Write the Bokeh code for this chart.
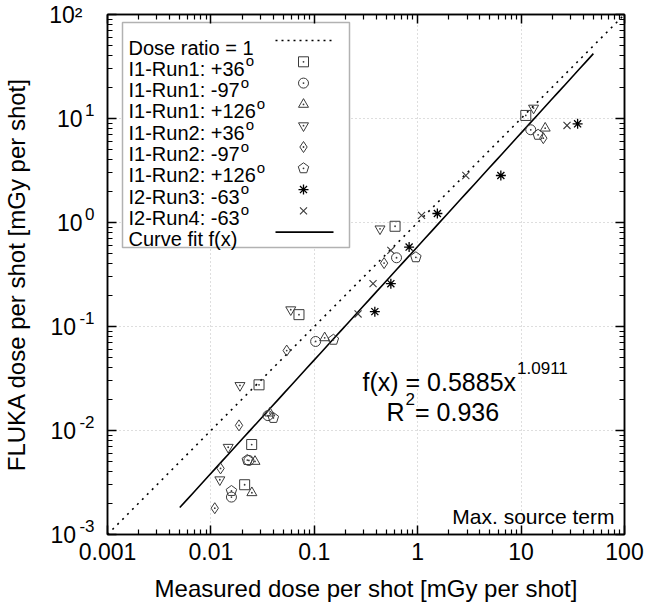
import numpy as np
from bokeh.plotting import figure
from bokeh.models import FixedTicker, Label, BoxAnnotation, Range1d, LogAxis, LogScale
from bokeh.embed import file_html
from bokeh.resources import INLINE

FONT = "Liberation Sans"

# ---------------- data ----------------
sq_x = [11.1, 0.604, 0.0711, 0.0292, 0.0248, 0.0212]
sq_y = [10.7, 0.92, 0.130, 0.0275, 0.00733, 0.00301]
ci_x = [12.4, 0.624, 0.103, 0.0356, 0.0233, 0.0158]
ci_y = [7.79, 0.458, 0.0718, 0.0139, 0.00515, 0.00229]
tu_x = [17.1, 0.126, 0.0372, 0.0267, 0.0249]
tu_y = [8.07, 0.0778, 0.0147, 0.00504, 0.00252]
td_x = [13.2, 0.432, 0.0592, 0.0191, 0.0147, 0.0122]
td_y = [12.6, 0.869, 0.145, 0.0271, 0.0069, 0.00336]
di_x = [16.4, 0.473, 0.0541, 0.0187, 0.0124, 0.0109]
di_y = [6.47, 0.407, 0.0587, 0.0112, 0.00432, 0.00179]
pe_x = [14.6, 0.96, 0.153, 0.0402, 0.0225, 0.0158]
pe_y = [6.97, 0.463, 0.0745, 0.0132, 0.0052, 0.00262]
as_x = [35.2, 6.37, 1.55, 0.826, 0.550, 0.385]
as_y = [8.89, 2.83, 1.22, 0.580, 0.258, 0.139]
xx_x = [27.8, 2.92, 1.09, 0.550, 0.370, 0.265]
xx_y = [8.57, 2.83, 1.17, 0.539, 0.258, 0.132]

fit_a = 0.5885
fit_b = 1.0911
fit_r2 = 0.936
fit_xmin, fit_xmax = 0.005, 50.0

x_tick_vals = [0.001, 0.01, 0.1, 1, 10, 100]
x_tick_labels = ["0.001", "0.01", "0.1", "1", "10", "100"]
y_exponents = [-3, -2, -1, 0, 1, 2]

series_labels = ["I1-Run1: +36", "I1-Run1: -97", "I1-Run1: +126",
                 "I1-Run2: +36", "I1-Run2: -97", "I1-Run2: +126",
                 "I2-Run3: -63", "I2-Run4: -63"]

# ---------------- layout ----------------
W_, H_ = 650, 616
LEFT, TOP, FW, FH = 107, 14, 517, 520
RIGHT = W_ - LEFT - FW
BOTTOM = H_ - TOP - FH

def X(px):
    return 10 ** (-3 + (px - LEFT) / FW * 5)

def Y(py):
    return 10 ** (-3 + (TOP + FH - py) / FH * 5)

CW = {' ': 278, '(': 333, ')': 333, '+': 584, '-': 333, '.': 278, ':': 278, '=': 584,
      '[': 278, ']': 278, 'A': 667, 'D': 722, 'F': 611, 'G': 778, 'I': 278, 'K': 667,
      'L': 556, 'M': 833, 'R': 722, 'U': 722, 'C': 722, 'a': 556, 'c': 500, 'd': 556,
      'e': 556, 'f': 278, 'h': 556, 'i': 222, 'm': 833, 'n': 556, 'o': 556, 'p': 556,
      'r': 333, 's': 500, 't': 278, 'u': 556, 'v': 500, 'x': 500, 'y': 500}

def tw(s, fs):
    return sum(CW.get(c, 556) for c in s) * fs / 1000.0

SUP_SHIFT = 9.0  # px the exponents sit above their tick
dsh = SUP_SHIFT / (FH / 5.0)

p = figure(x_axis_type="log", y_axis_type="log",
           x_range=Range1d(1e-3, 1e2), y_range=Range1d(1e-3, 1e2),
           frame_width=FW, frame_height=FH,
           min_border_left=LEFT, min_border_right=RIGHT,
           min_border_top=TOP, min_border_bottom=BOTTOM,
           output_backend="svg", toolbar_location=None)
p.extra_y_ranges = {"sup": Range1d(1e-3 * 10 ** (-dsh), 1e2 * 10 ** (-dsh))}
p.extra_y_scales = {"sup": LogScale()}
p.background_fill_color = "white"
p.border_fill_color = "white"
p.outline_line_color = "black"
p.outline_line_width = 1.5

major = [10.0 ** k for k in range(-3, 3)]
minor = [m * 10.0 ** k for k in range(-3, 2) for m in range(2, 10)]

def ticker():
    return FixedTicker(ticks=major, minor_ticks=minor)

def style_axis(ax):
    ax.ticker = ticker()
    ax.major_tick_in = 9
    ax.major_tick_out = 0
    ax.minor_tick_in = 5
    ax.minor_tick_out = 0
    ax.axis_line_width = 1.5
    ax.major_tick_line_width = 1.5
    ax.minor_tick_line_width = 1.2
    ax.axis_line_color = "black"

def bare_axis(ax):
    ax.axis_line_color = None
    ax.major_tick_line_color = None
    ax.minor_tick_line_color = None
    ax.major_tick_in = 0
    ax.major_tick_out = 0
    ax.minor_tick_in = 0
    ax.minor_tick_out = 0

style_axis(p.xaxis[0])
style_axis(p.yaxis[0])

p.xaxis.major_label_overrides = {float(v): t for v, t in zip(x_tick_vals, x_tick_labels)}
p.xaxis.major_label_text_font = FONT
p.xaxis.major_label_text_font_size = "23px"
p.xaxis.major_label_text_color = "black"
p.xaxis.major_label_standoff = 8
p.xaxis.axis_label = "Measured dose per shot [mGy per shot]"
p.xaxis.axis_label_text_font = FONT
p.xaxis.axis_label_text_font_size = "24px"
p.xaxis.axis_label_text_font_style = "normal"
p.xaxis.axis_label_text_color = "black"
p.xaxis.axis_label_standoff = 12

# innermost left axis: line + ticks only
p.yaxis[0].major_label_overrides = {float(v): " " for v in major}
p.yaxis[0].major_label_text_font_size = "6px"
p.yaxis[0].major_label_standoff = 0

TFS, SFS = 23, 17
SUPCH = {"2": "\u00b2", "1": "\u00b9", "0": "\u2070", "-": "\u207b", "3": "\u00b3"}
top_k = max(y_exponents)

# exponents (raised through the shifted range); the top one lies outside the frame
ax_exp = LogAxis(y_range_name="sup", ticker=FixedTicker(ticks=major))
bare_axis(ax_exp)
ax_exp.major_label_overrides = {float(10.0 ** k): str(k) for k in y_exponents if k != top_k}
ax_exp.major_label_text_font = FONT
ax_exp.major_label_text_font_size = f"{SFS}px"
ax_exp.major_label_text_color = "black"
ax_exp.major_label_standoff = 8
p.add_layout(ax_exp, "left")

# mantissa "10"
NBSP = "\u00a0"
def ten_label(k):
    if k == top_k:
        return "10" + "".join(SUPCH[c] for c in str(k))
    return "10" + NBSP if k < 0 else "10"

ax_ten = LogAxis(ticker=FixedTicker(ticks=major))
bare_axis(ax_ten)
ax_ten.major_label_overrides = {float(10.0 ** k): ten_label(k) for k in y_exponents}
ax_ten.major_label_text_font = FONT
ax_ten.major_label_text_font_size = f"{TFS}px"
ax_ten.major_label_text_color = "black"
ax_ten.major_label_standoff = -6
ax_ten.axis_label = "FLUKA dose per shot [mGy per shot]"
ax_ten.axis_label_text_font = FONT
ax_ten.axis_label_text_font_size = "24px"
ax_ten.axis_label_text_font_style = "normal"
ax_ten.axis_label_text_color = "black"
ax_ten.axis_label_standoff = 16
p.add_layout(ax_ten, "left")

for loc in ("above", "right"):
    ax = LogAxis()
    style_axis(ax)
    ax.major_label_overrides = {float(v): " " for v in major}
    ax.major_label_text_font_size = "6px"
    ax.major_label_standoff = 0
    p.add_layout(ax, loc)

for g in (p.xgrid[0], p.ygrid[0]):
    g.ticker = FixedTicker(ticks=major)
    g.grid_line_color = "#bdbdbd"
    g.grid_line_dash = "1 3"
    g.grid_line_width = 1

# ---------------- legend box (under glyphs) ----------------
p.add_layout(BoxAnnotation(left=X(122), right=X(349), top=Y(22), bottom=Y(247),
                           fill_color="white", fill_alpha=1.0, line_color="black",
                           line_width=1.5, level="underlay"))

# ---------------- reference and fit lines ----------------
p.line([1e-3, 1e2], [1e-3, 1e2], line_color="black", line_width=1.6, line_dash="2 5")
fx = np.logspace(np.log10(fit_xmin), np.log10(fit_xmax), 60)
p.line(fx, fit_a * fx ** fit_b, line_color="black", line_width=1.6)

# ---------------- markers ----------------
MC = "#3a3a3a"
KX, KY = FW / 5.0, FH / 5.0

def pentagon_patches(xs, ys, r=5.5):
    pxs, pys = [], []
    for x0, y0 in zip(xs, ys):
        ang = np.pi / 2 + np.arange(5) * 2 * np.pi / 5
        pxs.append(list(x0 * 10 ** (r * np.cos(ang) / KX)))
        pys.append(list(y0 * 10 ** (r * np.sin(ang) / KY)))
    return pxs, pys

def draw(marker, xs, ys):
    if marker == "pentagon":
        a, b = pentagon_patches(xs, ys)
        p.patches(a, b, fill_color=None, line_color=MC, line_width=1)
        p.scatter(xs, ys, marker="circle", size=1.8, fill_color=MC, line_color=None)
    elif marker == "asterisk":
        p.scatter(xs, ys, marker="asterisk", size=10, line_color="black", line_width=1.3)
    elif marker == "x":
        p.scatter(xs, ys, marker="x", size=10, line_color=MC, line_width=1.1)
    else:
        size = {"square": 10, "circle": 10, "triangle": 10, "inverted_triangle": 10,
                "diamond": 11}[marker]
        p.scatter(xs, ys, marker=marker, size=size, fill_color=None,
                  line_color=MC, line_width=1)
        p.scatter(xs, ys, marker="circle", size=1.8, fill_color=MC, line_color=None)

series = [("square", sq_x, sq_y), ("circle", ci_x, ci_y), ("triangle", tu_x, tu_y),
          ("inverted_triangle", td_x, td_y), ("diamond", di_x, di_y),
          ("pentagon", pe_x, pe_y), ("asterisk", as_x, as_y), ("x", xx_x, xx_y)]

for m, xs, ys in series:
    draw(m, xs, ys)

# ---------------- text helper ----------------
def lab(px, py, text, fs, align="left", baseline="alphabetic"):
    p.add_layout(Label(x=X(px), y=Y(py), text=text, text_font=FONT,
                       text_font_size=f"{int(round(fs))}px", text_color="black",
                       text_align=align, text_baseline=baseline))

# ---------------- legend content ----------------
LFS = 20
row0, drow = 40.0, 21.3
tx = 128
mx = 303

lab(tx, row0 + 7, "Dose ratio = 1", LFS)
p.line([X(275), X(333)], [Y(row0), Y(row0)], line_color="black", line_width=1.4, line_dash="2 4")
for i, (name, (m, _, _)) in enumerate(zip(series_labels, series)):
    cy = row0 + drow * (i + 1)
    lab(tx, cy + 7, name, LFS)
    lab(tx + tw(name, LFS) + 1, cy - 1, "o", 15)
    draw(m, [X(mx)], [Y(cy)])
cy = row0 + drow * 9
lab(tx, cy + 7, "Curve fit f(x)", LFS)
p.line([X(275), X(333)], [Y(cy), Y(cy)], line_color="black", line_width=1.8)

# ---------------- fit annotation ----------------
AFS = 25
base1 = "f(x) = %.4fx" % fit_a
lab(362, 381, base1, AFS)
lab(362 + tw(base1, AFS) + 1, 367, "%.4f" % fit_b, 17)
lab(386, 411, "R", AFS)
lab(386 + tw("R", AFS) + 1, 398, "2", 17)
lab(386 + tw("R", AFS) + 1 + tw("2", 17), 411, " = %.3f" % fit_r2, AFS)

lab(614, 516, "Max. source term", 21, align="right")

open("out.html", "w").write(file_html(p, INLINE))
